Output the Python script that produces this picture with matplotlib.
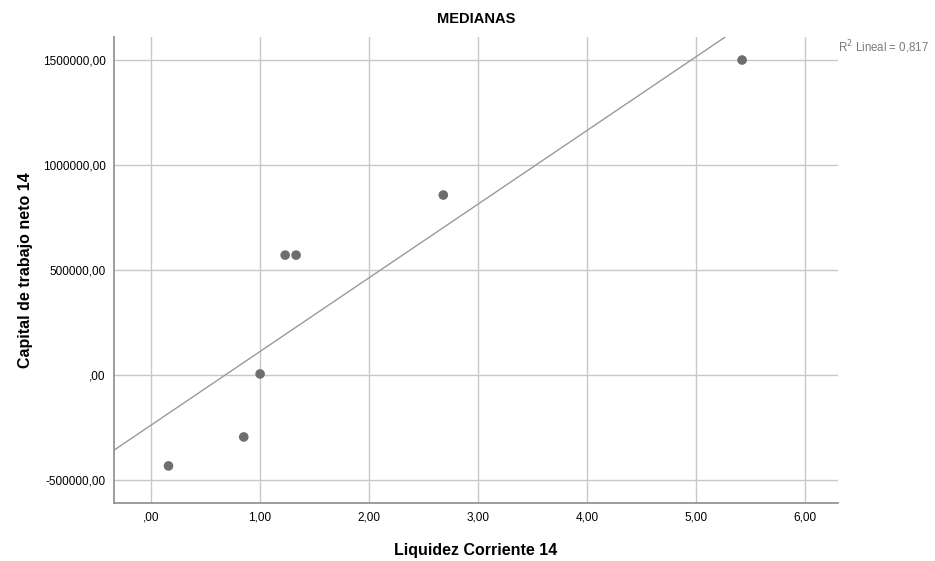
import matplotlib
matplotlib.use("Agg")
import matplotlib.pyplot as plt
import matplotlib.ticker as mticker
import numpy as np

# medianas por grupo
liquidez = [0.16, 0.85, 1.00, 1.23, 1.33, 2.68, 5.42]
capital = [-433000, -295000, 5000, 571000, 571000, 857000, 1500000]
r2_text = "R$^2$ Lineal = 0,817"

x_ticks = [0, 1, 2, 3, 4, 5, 6]
y_ticks = [-500000, 0, 500000, 1000000, 1500000]


def coma(v, pos=None):
    s = "{:.2f}".format(v).replace(".", ",")
    if s.startswith("0,"):
        s = s[1:]
    elif s.startswith("-0,"):
        s = "-" + s[2:]
    return s


def main():
    plt.rcParams["font.family"] = ["Liberation Sans", "DejaVu Sans"]

    fig = plt.figure(figsize=(9.35, 5.61), dpi=100)
    ax = fig.add_axes([0.1219, 0.1034, 0.7744, 0.8306])

    x = np.array(liquidez)
    y = np.array(capital)
    slope, inter = np.polyfit(x, y, 1)
    xs = np.array([-1.0, 8.0])
    ax.plot(xs, slope * xs + inter, color="#9a9a9a", lw=1.0, zorder=2)

    ax.scatter(x, y, s=48, color="#6e6e6e", edgecolors="none", zorder=3)

    ax.set_xlim(-0.34, 6.30)
    ax.set_ylim(-609500, 1609500)
    ax.set_xticks(x_ticks)
    ax.set_yticks(y_ticks)
    ax.xaxis.set_major_formatter(mticker.FuncFormatter(coma))
    ax.yaxis.set_major_formatter(mticker.FuncFormatter(coma))
    ax.tick_params(length=0, labelsize=8.5, pad=6, colors="black")

    ax.grid(True, color="#c8c8c8", lw=1.0)
    ax.set_axisbelow(True)
    for side in ["top", "right"]:
        ax.spines[side].set_visible(False)
    for side in ["left", "bottom"]:
        ax.spines[side].set_color("#8c8c8c")
        ax.spines[side].set_linewidth(1.2)

    ax.set_title("MEDIANAS", fontsize=10.5, fontweight="bold", pad=10)
    ax.set_xlabel("Liquidez Corriente 14", fontsize=11.5, fontweight="bold",
                  labelpad=14)
    ax.set_ylabel("Capital de trabajo neto 14", fontsize=11.5,
                  fontweight="bold", labelpad=7)

    ax.text(1.0, 0.979, r2_text, transform=ax.transAxes, fontsize=8.3,
            color="#7a7a7a", ha="left", va="center")

    fig.savefig("out.png", dpi=100)


if __name__ == "__main__":
    main()
